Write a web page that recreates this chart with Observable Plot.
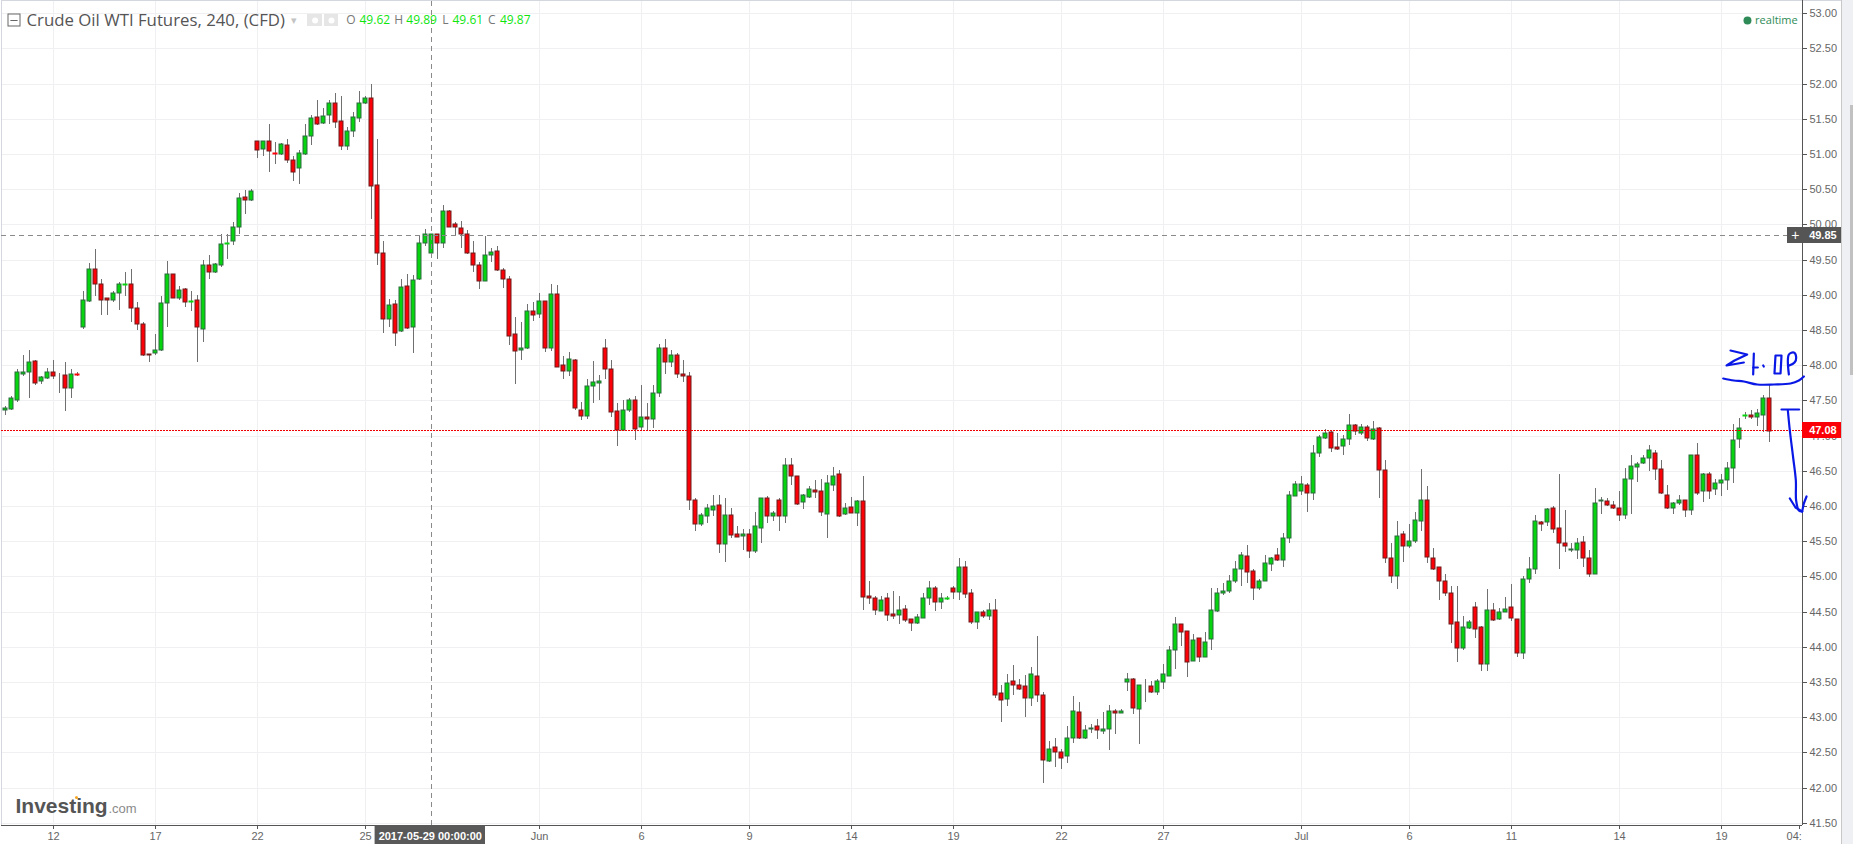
<!DOCTYPE html>
<html>
<head>
<meta charset="utf-8">
<script src="https://cdn.jsdelivr.net/npm/d3@7"></script>
<script src="https://cdn.jsdelivr.net/npm/@observablehq/plot@0.6"></script>
<style>
html,body{margin:0;padding:0;background:#fff;overflow:hidden}
#wrap{display:flex;width:1853px;height:844px}
#chart svg{display:block}
#scroll{position:relative;width:11px;height:844px;background:#eff0f4;border-left:1px solid #c8c8c8}
#thumb{position:absolute;left:8px;top:105px;width:4px;height:270px;background:#c1c1c1}
</style>
</head>
<body>
<div id="wrap"><div id="chart"></div><div id="scroll"><div id="thumb"></div></div></div>
<script>
const open = [
47.36,47.38,47.51,47.87,47.90,48.06,47.77,47.82,47.90,47.84,
47.86,47.68,47.87,48.54,48.91,49.36,49.15,48.95,48.92,49.02,
49.14,49.15,48.81,48.58,48.16,48.17,48.21,48.89,49.29,48.96,
49.08,48.90,48.92,48.51,49.42,49.32,49.43,49.72,49.76,49.96,
50.39,50.34,51.18,51.07,51.18,51.01,51.00,51.13,50.91,50.80,
51.00,51.25,51.53,51.44,51.55,51.73,51.47,51.11,51.32,51.51,
51.72,51.80,50.56,49.59,48.65,48.87,48.48,49.12,48.54,49.22,
49.74,49.60,49.86,49.73,50.19,50.00,49.95,49.86,49.59,49.42,
49.20,49.56,49.62,49.35,49.22,48.44,48.22,48.24,48.77,48.73,
48.91,48.25,49.01,48.00,47.92,48.07,47.36,47.28,47.70,47.75,
48.24,47.94,47.35,47.08,47.37,47.50,47.12,47.26,47.24,47.60,
48.24,48.04,48.14,47.88,47.84,46.08,45.75,45.86,45.95,46.01,
45.46,45.87,45.60,45.58,45.60,45.36,45.69,46.11,45.86,46.09,
45.86,46.58,46.43,46.06,46.13,46.23,46.22,45.89,46.30,46.45,
45.89,45.98,45.90,46.07,44.72,44.69,44.51,44.69,44.46,44.45,
44.54,44.39,44.34,44.41,44.69,44.83,44.64,44.68,44.83,44.78,
45.14,44.76,44.35,44.49,44.44,44.52,43.35,43.26,43.51,43.46,
43.44,43.27,43.59,43.31,42.38,42.57,42.50,42.45,42.70,43.07,
42.71,42.83,42.87,42.81,42.83,43.09,43.06,43.50,43.54,43.12,
43.44,43.45,43.36,43.50,43.59,43.96,44.32,44.22,43.80,44.12,
43.86,44.11,44.51,44.76,44.79,44.93,45.10,45.29,45.08,44.83,
44.93,45.17,45.30,45.23,45.54,46.14,46.21,46.30,46.18,46.75,
46.97,47.05,46.84,46.85,46.95,47.15,47.04,47.12,46.95,47.11,
46.51,45.26,45.00,45.60,45.43,45.50,45.79,46.09,45.26,45.13,
44.93,44.76,44.35,43.99,44.27,44.56,44.28,43.75,44.52,44.39,
44.50,44.56,44.39,43.91,44.96,45.10,45.77,45.77,45.97,45.69,
45.47,45.37,45.37,45.49,45.26,45.03,46.07,46.07,46.01,45.97,
45.87,46.38,46.55,46.61,46.68,46.75,46.53,46.16,45.97,46.04,
46.09,45.94,46.73,46.21,46.46,46.24,46.32,46.37,46.54,46.95,
47.28,47.29,47.27,47.29,47.54];
const high = [
47.42,47.56,47.95,48.15,48.22,48.07,47.84,47.96,48.08,47.89,
48.05,47.95,47.91,49.06,49.45,49.65,49.22,48.95,49.06,49.18,
49.33,49.36,48.90,48.61,48.16,48.45,48.99,49.48,49.30,49.13,
49.09,49.06,49.00,49.50,49.56,49.45,49.86,49.86,50.03,50.45,
50.49,50.50,51.18,51.18,51.42,51.17,51.15,51.21,50.97,51.05,
51.43,51.55,51.76,51.65,51.77,51.87,51.83,51.39,51.60,51.90,
51.82,52.00,51.22,49.77,48.94,48.93,49.22,49.29,49.28,49.85,
49.94,49.86,49.86,50.27,50.21,50.04,50.05,49.92,49.77,49.47,
49.84,49.66,49.69,49.38,49.27,48.69,48.61,48.87,48.90,49.02,
48.91,49.15,49.14,48.13,48.19,48.09,47.48,47.81,48.06,47.86,
48.37,48.08,47.46,47.51,47.53,47.56,47.72,47.46,47.72,48.30,
48.37,48.22,48.17,48.08,47.90,46.11,45.90,46.03,46.15,46.16,
46.11,45.97,45.72,45.68,45.67,45.91,46.11,46.14,45.93,46.11,
46.68,46.68,46.43,46.17,46.28,46.37,46.39,46.44,46.55,46.51,
46.04,46.13,46.08,46.43,44.93,44.72,44.72,44.76,44.79,44.72,
44.59,44.39,44.46,44.76,44.93,44.86,44.76,44.72,44.86,45.26,
45.22,44.82,44.50,44.53,44.62,44.68,43.46,43.61,43.74,43.54,
43.60,43.71,44.15,43.36,42.66,42.70,42.55,42.87,43.30,43.21,
42.89,42.90,42.97,43.07,43.18,43.11,43.12,43.63,43.56,43.46,
43.54,43.51,43.54,43.75,44.01,44.42,44.32,44.22,44.18,44.12,
44.21,44.84,44.83,44.90,45.02,45.22,45.35,45.44,45.10,44.97,
45.31,45.28,45.40,45.62,46.21,46.36,46.43,46.33,46.86,47.01,
47.09,47.08,47.04,47.01,47.30,47.17,47.17,47.15,47.21,47.12,
46.66,45.48,45.78,45.65,45.74,45.91,46.52,46.29,45.40,45.13,
45.03,44.86,44.87,44.44,44.38,44.63,44.30,44.82,44.62,44.55,
44.71,44.89,44.39,45.00,45.27,45.87,45.79,45.97,46.00,46.45,
45.95,45.48,45.54,45.58,45.38,46.26,46.13,46.11,46.07,46.22,
46.54,46.73,46.63,46.73,46.86,46.80,46.65,46.30,46.05,46.15,
46.09,46.73,46.90,46.47,46.49,46.38,46.46,46.63,47.17,47.25,
47.33,47.36,47.38,47.57,47.72];
const low = [
47.29,47.37,47.48,47.84,47.54,47.72,47.73,47.81,47.81,47.60,
47.35,47.54,47.84,48.52,48.90,48.98,48.72,48.72,48.90,48.79,
48.98,48.62,48.50,48.13,48.04,48.15,48.20,48.54,48.95,48.93,
48.83,48.77,48.05,48.33,49.23,49.31,49.40,49.51,49.71,49.87,
50.15,50.33,50.94,50.97,50.75,50.86,50.99,50.87,50.62,50.58,
50.99,51.13,51.41,51.43,51.42,51.37,51.05,51.06,51.24,51.46,
51.71,50.08,49.43,48.46,48.54,48.27,48.47,48.52,48.18,49.21,
49.70,49.59,49.51,49.67,49.96,49.85,49.66,49.58,49.33,49.08,
49.20,49.47,49.34,49.09,48.29,47.74,48.08,48.23,48.63,48.67,
48.19,48.20,47.97,47.80,47.85,47.37,47.22,47.23,47.47,47.51,
47.81,47.26,46.85,47.07,47.33,46.94,47.08,47.08,47.11,47.55,
47.88,47.97,47.82,47.76,45.94,45.65,45.72,45.76,45.86,45.33,
45.20,45.54,45.56,45.37,45.26,45.33,45.48,45.76,45.79,45.64,
45.76,46.30,46.01,45.96,46.11,46.12,45.86,45.54,46.21,45.85,
45.87,45.90,45.72,44.53,44.61,44.45,44.51,44.36,44.39,44.32,
44.35,44.23,44.33,44.41,44.59,44.51,44.54,44.66,44.68,44.66,
44.69,44.33,44.25,44.41,44.38,43.28,42.93,43.16,43.31,43.39,
43.01,43.16,43.22,42.07,42.37,42.29,42.26,42.35,42.64,42.69,
42.69,42.78,42.69,42.76,42.53,42.76,43.06,43.37,43.04,42.62,
43.21,43.35,43.31,43.40,43.58,43.68,44.01,43.57,43.80,43.78,
43.86,43.95,44.50,44.73,44.77,44.90,44.87,44.90,44.66,44.80,
44.93,45.07,45.22,45.14,45.48,46.14,46.15,45.92,46.09,46.69,
46.95,46.77,46.80,46.73,46.87,47.01,47.01,46.93,46.94,46.12,
45.19,44.90,44.82,45.20,45.41,45.47,45.65,45.19,45.09,44.67,
44.72,44.06,43.79,43.96,44.26,44.13,43.65,43.65,44.37,44.38,
44.50,44.37,43.86,43.83,44.90,45.04,45.65,45.72,45.61,45.11,
45.34,45.35,45.25,45.14,44.99,45.03,45.88,46.00,45.96,45.79,
45.81,45.88,46.34,46.59,46.50,46.37,46.17,45.96,45.89,46.02,
45.84,45.87,46.15,46.05,46.10,46.15,46.14,46.23,46.32,46.83,
47.24,47.23,47.13,47.05,46.91];
const close = [
47.39,47.53,47.90,47.90,48.04,47.75,47.83,47.91,47.85,47.85,
47.68,47.87,47.86,48.92,49.36,49.15,48.93,48.92,49.02,49.15,
49.15,48.81,48.58,48.14,48.14,48.21,48.88,49.29,48.96,49.07,
48.90,48.91,48.54,49.42,49.32,49.44,49.72,49.73,49.96,50.37,
50.34,50.47,51.05,51.18,51.04,51.00,51.14,50.91,50.75,51.01,
51.26,51.51,51.42,51.54,51.73,51.46,51.12,51.33,51.53,51.73,
51.80,50.55,49.59,48.65,48.85,48.46,49.11,48.53,49.21,49.73,
49.86,49.86,49.73,50.19,49.97,49.96,49.86,49.60,49.42,49.19,
49.56,49.61,49.35,49.22,48.42,48.20,48.24,48.77,48.72,48.91,
48.25,49.01,47.98,47.92,48.09,47.39,47.28,47.70,47.76,47.78,
47.94,47.34,47.08,47.36,47.50,47.10,47.26,47.24,47.60,48.24,
48.04,48.14,47.87,47.85,46.08,45.75,45.87,45.97,46.00,45.46,
45.87,45.59,45.56,45.60,45.36,45.71,46.11,45.86,45.90,45.86,
46.58,46.43,46.03,46.15,46.24,46.20,45.92,46.32,46.43,45.86,
45.97,45.90,46.07,44.71,44.70,44.53,44.66,44.45,44.44,44.53,
44.38,44.34,44.42,44.69,44.83,44.64,44.69,44.69,44.78,45.13,
44.75,44.35,44.49,44.44,44.53,43.32,43.25,43.49,43.46,43.40,
43.27,43.61,43.32,42.39,42.55,42.51,42.42,42.71,43.09,42.70,
42.82,42.85,42.82,42.83,43.09,43.06,43.09,43.54,43.13,43.46,
43.45,43.36,43.51,43.61,43.95,44.32,44.21,43.79,44.10,43.86,
44.07,44.52,44.76,44.79,44.93,45.10,45.30,45.06,44.83,44.93,
45.19,45.26,45.23,45.54,46.16,46.31,46.31,46.18,46.75,46.98,
47.04,46.82,46.81,46.95,47.15,47.07,47.12,46.96,47.09,46.51,
45.26,45.00,45.57,45.43,45.50,45.80,46.09,45.28,45.10,44.93,
44.76,44.32,43.99,44.28,44.35,44.26,43.75,44.53,44.38,44.49,
44.54,44.41,43.91,44.96,45.10,45.79,45.75,45.96,45.68,45.47,
45.43,45.39,45.47,45.26,45.04,46.04,46.09,46.01,45.97,45.87,
46.38,46.57,46.60,46.68,46.80,46.52,46.18,45.97,46.04,46.09,
45.94,46.73,46.18,46.46,46.22,46.33,46.37,46.54,46.94,47.11,
47.29,47.26,47.32,47.54,47.07];

const tickIndex = [8,25,42,60,89,106,124,141,158,176,193,216,234,251,269,286];
const tickLabels = ["12","17","22","25","Jun","6","9","14","19","22","27","Jul","6","11","14","19"];
const priceTicks = d3.range(41.5, 53.01, 0.5);
const currentPrice = 47.08;
const crosshairPrice = 49.85;
const crosshairIndex = 71;
const crosshairLabel = "2017-05-29 00:00:00";
const legendNames = ["O","49.62","H","49.89","L","49.61","C","49.87"];
const legendBars = [56.8,59,64.8,66.8,72.8,74.5,80.4,82.4];

// hand-drawn strokes as [bar index, price]
const strokeS = [[287.5,48.21],[290.28,48.16],[288.17,48.08],[286.84,48.01],[289.73,48.04]];
const strokeT1 = [[291.39,48.17],[291.28,47.88]];
const strokeT2 = [[291.28,47.97],[292.06,47.98]];
const strokeDot = [[292.95,48.00],[293.05,47.99]];
const strokeO = [[295.0,48.145],[294.83,47.885],[295.84,47.885],[296.0,48.145],[295.0,48.145]];
const strokeBar = [[296.0,47.373],[298.94,47.373]];
const strokeHeadL = [[297.39,46.12],[298.33,45.99],[299.44,45.93]];
const strokeHeadR = [[300.17,46.14],[299.72,46.04],[299.44,45.93]];
const strokeP = [[297.23,47.87],[297.23,48.16],[298.06,48.19],[298.45,48.12],[298.17,48.04],[297.28,48.00]];
const strokeSmile = [[286.28,47.82],[288.06,47.79],[289.73,47.77],[291.95,47.73],[294.72,47.73],[297.5,47.75],[298.89,47.79],[299.73,47.84]];
const strokeStem = [[297.06,47.36],[297.39,47.08],[297.94,46.70],[298.39,46.37],[298.44,46.09],[298.89,45.94],[299.44,45.93]];
const toPts = list=>list.flatMap((s,k)=>s.map(p=>({k,x:p[0],y:p[1]})));
const straightPts = toPts([strokeS,strokeT1,strokeT2,strokeDot,strokeO,strokeBar,strokeHeadL,strokeHeadR]);
const curvedPts = toPts([strokeP,strokeSmile,strokeStem]);

const bars = open.map((o,i)=>({i,o,h:high[i],l:low[i],c:close[i]}));
const up = d=>d.c>=d.o;
const flat = d=>Math.abs(d.c-d.o)<0.015;
const XMIN=-2/3, XMAX=299.5, YMIN=41.469, YMAX=53.1875, HEAD=52.905;
const GREEN="#06d40e", RED="#fb0006", TXT="#666", BLUE="#0a18e6";
const font = "'Liberation Sans', Arial, sans-serif";

const chart = Plot.plot({
  width:1841, height:844,
  marginLeft:1, marginRight:39, marginTop:0, marginBottom:19,
  style:{background:"#fff",fontFamily:font,fontSize:"11px",color:TXT,overflow:"visible"},
  x:{domain:[XMIN,XMAX],label:null},
  y:{domain:[YMIN,YMAX],label:null,round:true},
  color:{type:"identity"},
  marks:[
    // grid
    Plot.ruleX(tickIndex,{stroke:"#f0f0f2",strokeWidth:1}),
    Plot.ruleY(priceTicks,{stroke:"#f0f0f2",strokeWidth:1,x1:XMIN,x2:XMAX}),
    // frame
    Plot.ruleX([XMIN],{stroke:"#d5d7df"}),
    Plot.ruleY([YMAX],{stroke:"#d5d7df",x1:XMIN,x2:306}),
    // candles
    Plot.ruleX(bars,{x:"i",y1:"l",y2:"h",stroke:"#707070",strokeWidth:1}),
    Plot.rect(bars,{x1:d=>d.i-1/3,x2:d=>d.i+1/3,y1:"o",y2:"c",
      fill:d=>up(d)?GREEN:RED,
      stroke:d=>flat(d)?(up(d)?GREEN:RED):(up(d)?"#2b6a3c":"#6d1c1c"),strokeWidth:1}),
    // crosshair and price lines
    Plot.ruleX([crosshairIndex],{y1:YMIN,y2:YMAX,stroke:"#8a8a8a",strokeDasharray:"5 4"}),
    Plot.ruleY([crosshairPrice],{x1:XMIN,x2:297,stroke:"#8a8a8a",strokeDasharray:"5 4"}),
    Plot.ruleY([currentPrice],{x1:XMIN,x2:XMAX,stroke:"#f00000",strokeDasharray:"2 1"}),
    // axes
    Plot.axisY({anchor:"right",ticks:priceTicks,tickFormat:d3.format(".2f"),tickSize:4,tickPadding:3,label:null,stroke:"#555"}),
    Plot.axisX({anchor:"bottom",ticks:tickIndex.concat([299]),tickFormat:i=>tickLabels[tickIndex.indexOf(i)]??"",tickSize:4,tickPadding:3,label:null,stroke:"#555"}),
    Plot.text(["04:"],{x:[299.4],y:[YMIN],dy:11,textAnchor:"end",fill:TXT,fontSize:11}),
    Plot.ruleX([XMAX],{y1:YMIN,y2:YMAX,stroke:"#555"}),
    Plot.ruleY([YMIN],{x1:XMIN,x2:XMAX,stroke:"#555"}),
    // price boxes
    Plot.rect([currentPrice],{x1:XMAX,x2:306,y1:d=>d-0.107,y2:d=>d+0.107,fill:RED}),
    Plot.text([currentPrice],{x:()=>302.9,y:d=>d,text:d=>d.toFixed(2),fill:"#fff",fontWeight:"bold",fontSize:11}),
    Plot.rect([crosshairPrice],{x1:297,x2:306,y1:d=>d-0.11,y2:d=>d+0.11,fill:"#555"}),
    Plot.text([crosshairPrice],{x:()=>302.9,y:d=>d,text:d=>d.toFixed(2),fill:"#fff",fontWeight:"bold",fontSize:11}),
    Plot.text(["+"],{x:[298.3],y:[crosshairPrice],fill:"#fff",fontSize:14}),
    Plot.rect([crosshairIndex],{x1:d=>d-9.4,x2:d=>d+9,y1:YMIN,y2:YMIN-0.27,fill:"#595959"}),
    Plot.text([crosshairLabel],{x:[crosshairIndex-0.2],y:[YMIN],dy:11,fill:"#fff",fontWeight:"bold",fontSize:11}),
    // hand drawing
    Plot.line(straightPts,{x:"x",y:"y",z:"k",stroke:BLUE,strokeWidth:2.2,curve:"linear"}),
    Plot.line(curvedPts,{x:"x",y:"y",z:"k",stroke:BLUE,strokeWidth:2.2,curve:"catmull-rom"}),
    // header
    Plot.rect([0],{x1:0.5,x2:2.5,y1:52.82,y2:52.99,fill:"#fff",stroke:"#666"}),
    Plot.ruleY([HEAD],{x1:0.9,x2:2.1,stroke:"#666"}),
    Plot.text(["Crude Oil WTI Futures, 240, (CFD)"],{x:[3.5],y:[HEAD],textAnchor:"start",fill:"#555",fontSize:16.8,fontFamily:"'Open Sans'"}),
    Plot.text(["▾"],{x:[48],y:[HEAD],fill:"#c4c4c4",fontSize:11}),
    Plot.rect([0],{x1:50.33,x2:52.83,y1:52.82,y2:52.99,fill:"#e6e6e6"}),
    Plot.rect([0],{x1:53.17,x2:55.5,y1:52.82,y2:52.99,fill:"#e6e6e6"}),
    Plot.dot([51.6,54.33],{x:d=>d,y:()=>HEAD,r:3,fill:"#fff",stroke:"none"}),
    Plot.text(legendNames,{x:(d,i)=>legendBars[i],y:()=>HEAD,text:d=>d,textAnchor:"start",
      fill:d=>d.length>1?"#0ee60e":"#777",fontSize:12,fontFamily:"'Open Sans'"}),
    Plot.dot([290.33],{x:d=>d,y:()=>HEAD,r:4,fill:"#2e8b57",stroke:"none"}),
    Plot.text(["realtime"],{x:[291.6],y:[HEAD],textAnchor:"start",fill:"#2e8b57",fontSize:11,fontFamily:"'Open Sans'"}),
    // logo
    Plot.text(["Investing"],{frameAnchor:"top-left",dx:14,dy:806,lineAnchor:"middle",textAnchor:"start",fill:"#555",fontWeight:"bold",fontSize:21}),
    Plot.text([".com"],{frameAnchor:"top-left",dx:107,dy:808,lineAnchor:"middle",textAnchor:"start",fill:"#8a8a8a",fontSize:13}),
    Plot.dot([11.83],{x:d=>d,y:()=>41.866,r:1.5,fill:"#f5a623",stroke:"none"})
  ]
});
document.getElementById("chart").appendChild(chart);
</script>
</body>
</html>
